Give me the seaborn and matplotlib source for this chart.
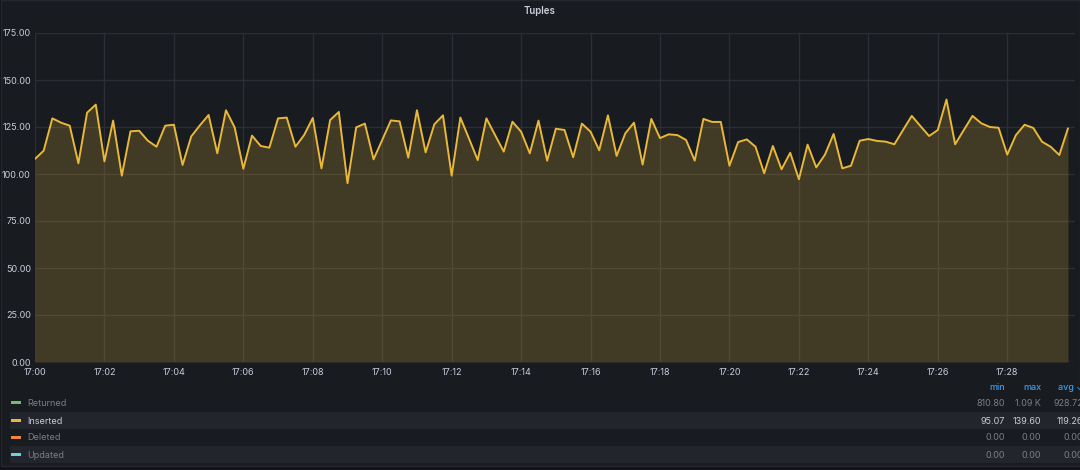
import numpy as np
import pandas as pd
import matplotlib
matplotlib.use("Agg")
import matplotlib.pyplot as plt
import matplotlib.dates as mdates
from matplotlib.patches import Rectangle
import seaborn as sns


title = "Tuples"

# Inserted tuples, one sample every 15 s from 17:00:00
inserted = [108.0, 112.4, 129.6, 127.3, 125.7, 105.7, 132.6, 136.9, 106.7, 128.4,
            99.1, 122.7, 123.0, 117.7, 114.5, 125.7, 126.2, 104.8, 120.0, 125.9,
            131.4, 111.0, 133.9, 124.8, 102.8, 120.4, 114.9, 114.0, 129.6, 130.0,
            114.5, 120.7, 129.8, 103.0, 128.7, 133.0, 95.1, 124.8, 126.8, 107.8,
            118.1, 128.5, 128.0, 108.7, 133.9, 111.5, 126.4, 131.2, 99.1, 130.0,
            118.8, 107.4, 129.6, 120.7, 111.9, 127.8, 122.5, 111.0, 128.4, 107.1,
            124.1, 123.4, 108.9, 126.8, 122.5, 112.6, 131.2, 109.6, 121.6, 127.3,
            105.0, 129.3, 119.1, 121.1, 120.7, 118.1, 107.1, 129.3, 127.7, 127.7,
            104.4, 117.0, 118.4, 114.5, 100.4, 114.9, 102.5, 111.3, 97.2, 115.6,
            103.5, 110.3, 121.3, 103.0, 104.4, 117.7, 118.6, 117.6, 117.2, 115.8,
            123.4, 130.9, 125.5, 120.2, 123.4, 139.6, 115.8, 123.4, 130.9, 127.0,
            125.0, 124.6, 110.3, 120.7, 126.2, 124.5, 117.2, 114.5, 110.1, 124.3]

y_ticks = [0, 25, 50, 75, 100, 125, 150, 175]

legend_names = ["Returned", "Inserted", "Deleted", "Updated"]
legend_colors = ["#73bf69", "#eab839", "#ef843c", "#6ed0e0"]
legend_active = [False, True, False, False]
legend_min = ["810.80", "95.07", "0.00", "0.00"]
legend_max = ["1.09 K", "139.60", "0.00", "0.00"]
legend_avg = ["928.72", "119.26", "0.00", "0.00"]
stat_headers = ["min", "max", "avg \u2304"]

BG = "#181b1f"
PAGE = "#111217"
TEXT = "#ccccdc"
DIM = "#7b7d85"
GRID = "#2b2e34"
LINE = legend_colors[1]

times = pd.date_range("2024-01-01 17:00:00", periods=len(inserted), freq="15s")
df = pd.DataFrame({"time": times, "value": inserted})

sns.set_style("dark")
plt.rcParams["font.family"] = ["Inter", "DejaVu Sans"]

W, H = 1080, 470
fig = plt.figure(figsize=(W / 100, H / 100), dpi=100, facecolor=PAGE)

# panel background with a faint border
fig.patches.append(Rectangle((1 / W, 4 / H), 1 - 1 / W, 1 - 4 / H, transform=fig.transFigure,
                             facecolor=BG, edgecolor="#24272d", linewidth=1, zorder=-5))

ax = fig.add_axes([35 / W, 1 - 362 / H, (1075 - 35) / W, (362 - 33) / H])
ax.set_zorder(5)
ax.set_facecolor(BG)

sns.lineplot(data=df, x="time", y="value", ax=ax, color=LINE, linewidth=1.4, zorder=3)
ax.fill_between(df["time"], df["value"], 0, color=LINE, alpha=0.2, linewidth=0, zorder=2)

ax.set_ylim(0, 175)
ax.set_yticks(y_ticks)
ax.set_yticklabels([f"{v:.2f}" for v in y_ticks])

t0 = times[0]
px_per_min = (1068 - 35) / 29.75
ax.set_xlim(t0, t0 + pd.Timedelta(minutes=(1075 - 35) / px_per_min))
ax.xaxis.set_major_locator(mdates.MinuteLocator(byminute=range(0, 60, 2)))
ax.xaxis.set_major_formatter(mdates.DateFormatter("%H:%M"))

ax.grid(True, color=GRID, linewidth=1, zorder=1)
ax.set_axisbelow(True)
for s in ax.spines.values():
    s.set_visible(False)
ax.tick_params(colors=TEXT, labelsize=6.5, length=0, pad=3)
ax.tick_params(axis="x", pad=4)
ax.set_xlabel("")
ax.set_ylabel("")

fig.text(0.5, 1 - 11 / H, title, ha="center", va="center", color=TEXT,
         fontsize=7, fontweight="semibold")

# legend table below the plot
col_right = [1005, 1041, 1083]
fig_h = lambda y: 1 - y / H
for x, h in zip(col_right, stat_headers):
    fig.text(x / W, fig_h(388), h, ha="right", va="center", color="#3d9be9",
             fontsize=6.5, fontweight="medium")

row_y = [403, 421, 438, 455]
for i, name in enumerate(legend_names):
    y = row_y[i]
    if i % 2 == 1:
        fig.patches.append(Rectangle((10 / W, fig_h(y + 8)), 1 - 10 / W, 17 / H,
                                     transform=fig.transFigure, facecolor="#22252b",
                                     edgecolor="none", zorder=1))
    fig.patches.append(Rectangle((11 / W, fig_h(y + 0.5)), 10 / W, 3 / H,
                                 transform=fig.transFigure, facecolor=legend_colors[i],
                                 edgecolor="none", zorder=2))
    col = TEXT if legend_active[i] else DIM
    fig.text(27 / W, fig_h(y), name, ha="left", va="center", color=col, fontsize=6.5)
    for x, v in zip(col_right, [legend_min[i], legend_max[i], legend_avg[i]]):
        fig.text(x / W, fig_h(y), v, ha="right", va="center", color=col, fontsize=6.5)

fig.savefig("out.png", dpi=100, facecolor=PAGE)
